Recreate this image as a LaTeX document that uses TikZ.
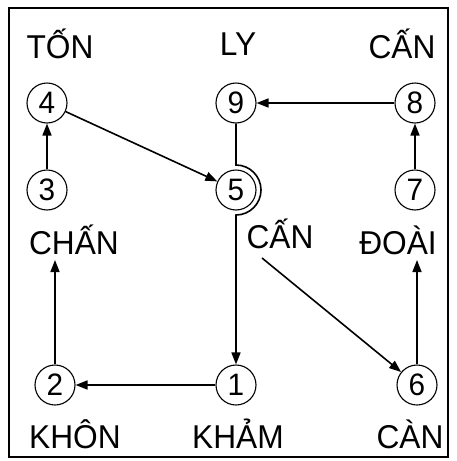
\documentclass[tikz,border=0pt]{standalone}
\usepackage{fontspec}
\setmainfont{Liberation Sans}[FakeStretch=0.96]
\usetikzlibrary{arrows.meta}
\begin{document}
\begin{tikzpicture}[x=1pt,y=-1pt,
  num/.style={circle,draw,line width=1.1pt,minimum size=40pt,inner sep=0pt,font=\fontsize{31}{31}\selectfont},
  lbl/.style={inner sep=0pt,font=\fontsize{33}{33}\selectfont},
  conn/.style={line width=1.6pt},
  arr/.style={conn,-{Triangle[length=12pt,width=9pt]}}]
\useasboundingbox (0,0) rectangle (456,461);
\draw[line width=2.4pt] (9,8) rectangle (448,457);
% circles
\node[num] (c4) at (47,103) {4};
\node[num] (c9) at (236,103) {9};
\node[num] (c8) at (415,103) {8};
\node[num] (c3) at (47,190) {3};
\node[num] (c5) at (236,190) {5};
\node[num] (c7) at (415,190) {7};
\node[num] (c2) at (55,385) {2};
\node[num] (c1) at (236,385) {1};
\node[num] (c6) at (417,385) {6};
% labels
\node[lbl] (ton) at (60,44) {TỐN};
\node[lbl] (ly) at (238,44) {LY};
\node[lbl] (cantop) at (402,44) {CẤN};
\node[lbl] (chan) at (74,240) {CHẤN};
\node[lbl] (canmid) at (280,234) {CẤN};
\node[lbl] (doai) at (398,240) {ĐOÀI};
\node[lbl] (khon) at (75,434) {KHÔN};
\node[lbl] (kham) at (238,434) {KHẢM};
\node[lbl] (can) at (410,434) {CÀN};
% connectors
\coordinate (arcTop) at (236,165);
\coordinate (chanTip) at (55,260);
\coordinate (doaiTip) at (417,260);
\coordinate (canStart) at (262,258);
\draw[arr] (c3) -- (c4);
\draw[arr] (c4) -- (c5);
\draw[arr] (c9.south) -- (arcTop) arc[start angle=90,end angle=-90,radius=25pt] -- (c1.north);
\draw[arr] (c1) -- (c2);
\draw[arr] (c2.north) -- (chanTip);
\draw[arr] (canStart) -- (c6);
\draw[arr] (c6.north) -- (doaiTip);
\draw[arr] (c7) -- (c8);
\draw[arr] (c8) -- (c9);
\end{tikzpicture}
\end{document}
